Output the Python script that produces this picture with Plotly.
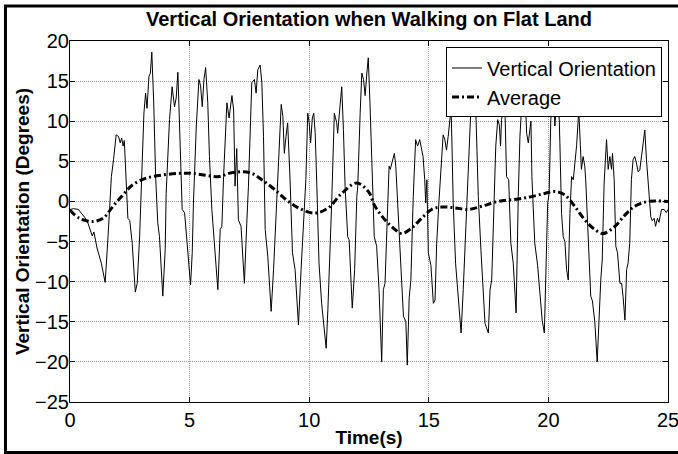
import plotly.graph_objects as go

# ---- data ----
time_s = [0.00, 0.15, 0.35, 0.47, 0.62, 0.75, 0.93, 1.00, 1.13, 1.31, 1.47, 1.59, 1.73, 1.82, 1.93, 2.03, 2.10, 2.16, 2.22, 2.27,
          2.35, 2.42, 2.50, 2.60, 2.73, 2.81, 2.91, 3.02, 3.09, 3.16, 3.22, 3.30, 3.36, 3.42, 3.50, 3.58, 3.67, 3.74, 3.88, 3.98,
          4.02, 4.16, 4.27, 4.37, 4.44, 4.51, 4.58, 4.69, 4.79, 4.89, 5.04, 5.11, 5.16, 5.28, 5.39, 5.46, 5.53, 5.60, 5.67, 5.76,
          5.83, 5.93, 6.04, 6.18, 6.28, 6.35, 6.42, 6.56, 6.65, 6.77, 6.84, 6.90, 6.97, 7.04, 7.15, 7.29, 7.39, 7.46, 7.60, 7.71,
          7.78, 7.85, 7.95, 8.02, 8.09, 8.16, 8.27, 8.41, 8.51, 8.58, 8.69, 8.83, 8.90, 8.96, 9.03, 9.10, 9.20, 9.30, 9.41, 9.55,
          9.66, 9.76, 9.86, 9.94, 10.00, 10.06, 10.13, 10.19, 10.25, 10.32, 10.41, 10.52, 10.71, 10.78, 10.88, 10.94, 11.05, 11.15, 11.19, 11.29,
          11.36, 11.43, 11.50, 11.61, 11.67, 11.80, 11.90, 11.99, 12.03, 12.13, 12.20, 12.27, 12.34, 12.41, 12.47, 12.54, 12.61, 12.72, 12.82, 12.92,
          13.03, 13.10, 13.17, 13.24, 13.34, 13.39, 13.45, 13.56, 13.62, 13.69, 13.76, 13.84, 13.94, 14.04, 14.10, 14.18, 14.25, 14.35, 14.45, 14.53,
          14.62, 14.69, 14.76, 14.83, 14.87, 14.92, 14.98, 15.09, 15.19, 15.26, 15.33, 15.42, 15.51, 15.60, 15.67, 15.74, 15.81, 15.93, 15.97, 16.02,
          16.12, 16.23, 16.35, 16.44, 16.51, 16.62, 16.72, 16.80, 16.86, 16.92, 16.98, 17.07, 17.18, 17.28, 17.35, 17.49, 17.56, 17.63, 17.70, 17.80,
          17.88, 17.95, 18.00, 18.04, 18.11, 18.16, 18.25, 18.34, 18.43, 18.53, 18.65, 18.71, 18.74, 18.81, 18.91, 19.00, 19.09, 19.16, 19.23, 19.27,
          19.31, 19.35, 19.43, 19.55, 19.64, 19.74, 19.83, 19.88, 19.97, 20.03, 20.10, 20.20, 20.27, 20.34, 20.41, 20.48, 20.55, 20.62, 20.69, 20.76,
          20.83, 20.90, 20.97, 21.04, 21.11, 21.18, 21.27, 21.34, 21.38, 21.45, 21.52, 21.56, 21.63, 21.68, 21.77, 21.84, 21.94, 22.04, 22.11, 22.19,
          22.25, 22.33, 22.43, 22.50, 22.57, 22.64, 22.68, 22.75, 22.82, 22.89, 22.99, 23.06, 23.12, 23.20, 23.27, 23.33, 23.40, 23.47, 23.54, 23.61,
          23.68, 23.75, 23.82, 23.92, 24.03, 24.10, 24.14, 24.20, 24.28, 24.34, 24.42, 24.48, 24.56, 24.62, 24.73, 24.84, 24.93, 25.00]
orientation_deg = [-1.0, -0.9, -1.0, -1.45, -2.0, -2.7, -4.3, -3.8, -5.8, -7.7, -10.1, -4.4, 3.1, 5.2, 8.3, 8.1, 7.3, 7.9, 6.9, 7.6,
                   3.1, -2.1, -2.4, -5.2, -11.3, -10.2, -4.4, 4.8, 11.0, 13.5, 11.6, 15.6, 16.0, 18.6, 12.3, 3.1, -2.7, -4.4, -11.8, -6.0,
                   1.0, 10.2, 14.3, 11.8, 12.9, 16.1, 9.8, -1.0, -1.4, -5.2, -10.4, -6.4, -0.2, 9.4, 15.2, 14.4, 11.8, 15.2, 16.7, 12.3,
                   5.6, -1.0, -5.2, -11.0, -3.5, -3.1, 3.1, 12.3, 10.4, 13.2, 11.4, 1.9, 6.6, -2.3, -3.1, -10.2, -2.7, 1.9, 14.8, 15.2,
                   13.5, 16.4, 17.0, 14.8, 8.1, -3.5, -6.9, -13.7, -8.5, -4.0, 3.1, 12.1, 10.6, 6.0, 8.1, 9.8, 2.7, -6.4, -8.5, -15.4,
                   -8.5, -2.7, 2.7, 11.0, 9.8, 7.3, 10.4, 11.0, 8.6, 1.9, -7.7, -12.7, -18.3, -13.5, -6.1, -0.2, 11.0, 9.8, 8.5, 11.4,
                   14.3, 9.0, 1.9, -4.4, -4.8, -13.3, -8.5, 0.6, 1.9, 11.0, 16.0, 15.2, 13.2, 16.0, 17.9, 12.3, 4.8, -4.4, -5.6, -11.0,
                   -20.0, -11.0, -10.2, -3.5, 4.4, 4.0, 4.8, 6.0, 4.4, -0.2, -4.0, -8.5, -14.3, -15.0, -20.4, -12.0, -9.8, 0.6, 7.7, 6.9,
                   7.7, 6.4, 5.6, 2.7, -0.2, 2.7, -6.4, -8.0, -12.7, -12.3, -5.2, -0.2, 3.9, 8.3, 7.7, 6.4, 8.1, 11.6, 6.9, -0.2,
                   -7.7, -11.8, -16.4, -11.0, -6.1, 2.7, 9.4, 14.5, 13.0, 15.0, 9.8, 0.6, -6.1, -11.0, -15.2, -16.4, -11.0, -9.8, -2.7, 6.9,
                   10.2, 9.5, 6.9, 10.2, 11.4, 14.5, 3.1, 2.7, -5.2, -7.7, -13.9, -0.2, 0.6, 8.1, 13.5, 15.5, 8.5, 7.3, 9.0, 10.0,
                   3.1, -0.5, -5.2, -8.0, -11.0, -14.8, -16.4, -11.0, -0.2, 1.0, 10.2, 15.0, 9.4, 12.3, 15.0, 7.3, -1.5, -4.4, -5.0, -8.5,
                   -9.8, -1.5, 3.1, 2.7, 4.8, 7.0, 11.4, 7.0, 4.0, 5.6, 4.4, 2.7, -2.7, -5.2, -11.8, -12.4, -15.0, -20.0, -15.0, -9.8,
                   -7.3, 2.3, 7.7, 4.0, 5.6, 4.0, 6.0, 2.7, -5.6, -6.4, -10.2, -10.2, -11.8, -14.8, -8.5, -7.7, -5.2, 2.7, 5.2, 5.6,
                   4.8, 3.7, 3.9, 6.4, 8.9, 5.2, 3.5, 0.6, -1.9, -2.4, -2.1, -3.1, -2.1, -2.6, -1.0, -1.0, -1.4, -1.0]

avg_time_s = [0.0, 0.4, 0.96, 1.38, 1.8, 2.21, 2.63, 3.19, 3.88, 4.58, 5.13, 5.69, 6.25, 6.63, 7.18, 7.6, 8.02, 8.57, 9.13, 9.69,
              10.25, 10.8, 11.36, 11.99, 12.47, 12.75, 13.17, 13.59, 13.87, 14.29, 14.7, 15.12, 15.54, 16.1, 16.65, 17.21, 17.9, 18.74, 19.3, 19.85,
              20.27, 20.69, 21.1, 21.52, 21.94, 22.29, 22.78, 23.2, 23.61, 24.17, 25.0]
avg_deg = [-1.1, -2.1, -2.5, -2.1, -0.6, 0.8, 2.1, 2.9, 3.3, 3.5, 3.5, 3.25, 3.1, 3.5, 3.7, 3.5, 2.7, 1.45, 0.0, -1.0,
           -1.45, -0.8, 1.0, 2.3, 1.25, -0.6, -2.3, -3.5, -4.0, -3.3, -2.1, -1.0, -0.7, -0.8, -1.0, -0.6, 0.0, 0.3, 0.6, 1.0,
           1.25, 0.8, -0.6, -2.3, -3.5, -4.0, -3.1, -1.7, -0.6, 0.0, 0.0]

x_ticks = [0, 5, 10, 15, 20, 25]
y_ticks = [-25, -20, -15, -10, -5, 0, 5, 10, 15, 20]

FONT = "Liberation Sans, Arial, sans-serif"

fig = go.Figure()
fig.add_trace(go.Scatter(x=time_s, y=orientation_deg, mode="lines", name="Vertical Orientation",
                         line=dict(color="black", width=1)))
fig.add_trace(go.Scatter(x=avg_time_s, y=avg_deg, mode="lines", name="Average",
                         line=dict(color="black", width=3, dash="7px,3px,2px,3px", shape="spline", smoothing=1.0)))

axis_common = dict(showline=True, linecolor="black", linewidth=1, mirror="ticks",
                   ticks="inside", ticklen=5, tickcolor="black", tickwidth=1,
                   showgrid=True, gridcolor="#9a9a9a", gridwidth=1, griddash="1px,1px",
                   zeroline=False, ticklabeloverflow="allow", automargin=False,
                   tickfont=dict(family=FONT, size=20, color="black"))

fig.update_xaxes(range=[0, 25], tickvals=x_ticks, **axis_common,
                 title=dict(text="<b>Time(s)</b>", font=dict(family=FONT, size=19, color="black"), standoff=0))
fig.update_yaxes(range=[-25, 20], tickvals=y_ticks, ticklabelstandoff=-4, **axis_common,
                 title=dict(text="<b>Vertical Orientation (Degrees)</b>", font=dict(family=FONT, size=19, color="black"), standoff=0))

fig.update_layout(
    width=678, height=454,
    margin=dict(l=70, r=10, t=41, b=52, autoexpand=False),
    paper_bgcolor="white", plot_bgcolor="white",
    title=dict(text="<b>Vertical Orientation when Walking on Flat Land</b>", x=0.5 * (70 + 668) / 678, xanchor="center",
               y=1 - 19 / 454, yanchor="middle", font=dict(family=FONT, size=20, color="black")),
    legend=dict(x=0.99, y=0.982, xanchor="right", yanchor="top", bgcolor="white",
                bordercolor="black", borderwidth=1, font=dict(family=FONT, size=20, color="black"),
                tracegroupgap=0, itemwidth=30),
    showlegend=True,
    shapes=[dict(type="rect", xref="paper", yref="paper", x0=-0.1079, x1=1.08, y0=-0.1399, y1=1.097,
                 line=dict(color="black", width=3), fillcolor="rgba(0,0,0,0)", layer="above")],
)

fig.write_html("out.html")
